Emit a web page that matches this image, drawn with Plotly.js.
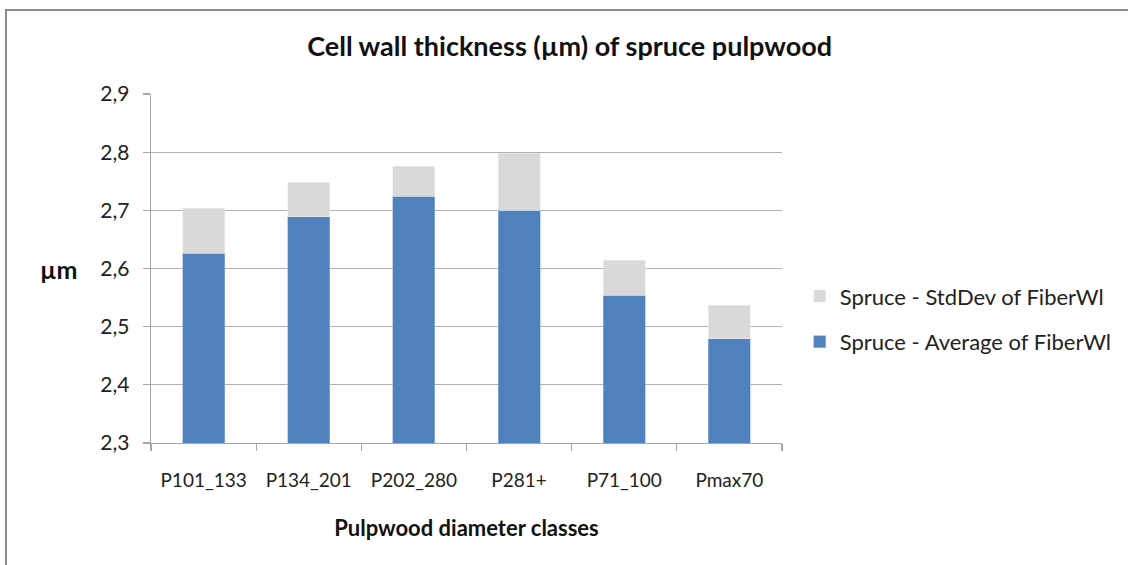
<!DOCTYPE html>
<html>
<head>
<meta charset="utf-8">
<script src="https://cdn.plot.ly/plotly-3.0.1.min.js"></script>
<style>
  html, body { margin: 0; padding: 0; background: #ffffff; }
  #chart { width: 1128px; height: 565px; position: absolute; left: 0; top: 0; }
  #frame { position: absolute; left: 5px; top: 9px; width: 1130px; height: 570px;
           border-left: 2px solid #8c8c8c; border-top: 2px solid #8c8c8c; pointer-events: none; }
</style>
</head>
<body>
<div id="chart"></div>
<div id="frame"></div>
<script>
const categories = ["P101_133", "P134_201", "P202_280", "P281+", "P71_100", "Pmax70"];
const averageFiberWl = [2.626, 2.689, 2.724, 2.700, 2.554, 2.479];
const stdDevFiberWl = [0.078, 0.059, 0.052, 0.098, 0.060, 0.058];
const seriesNames = ["Spruce - Average of FiberWl", "Spruce - StdDev of FiberWl"];
const chartTitle = "Cell wall thickness (µm) of spruce pulpwood";
const xTitle = "Pulpwood diameter classes";
const yTitle = "µm";

const FONT = "Lato, 'Open Sans', sans-serif";

const traces = [
  {
    type: "bar", name: seriesNames[0], x: categories, y: averageFiberWl,
    legendgroup: "avg", legendrank: 2,
    marker: { color: "#4F81BD", line: { color: "#9DBBE0", width: 0.6 } },
    hoverinfo: "x+y"
  },
  {
    type: "bar", name: seriesNames[1], x: categories, y: stdDevFiberWl,
    legendgroup: "std", legendrank: 1,
    marker: { color: "#D9D9D9", line: { color: "#EEEEEE", width: 0.6 } },
    hoverinfo: "x+y"
  }
];

const layout = {
  width: 1128, height: 565,
  paper_bgcolor: "rgba(0,0,0,0)", plot_bgcolor: "#ffffff",
  separators: ",.",
  barmode: "stack", bargap: 0.6,
  margin: { l: 151, r: 346, t: 94, b: 122 },
  font: { family: FONT, size: 19, color: "#222222" },
  title: {
    text: "<b>" + chartTitle + "</b>",
    font: { family: FONT, size: 27, color: "#111111" },
    x: 0.505, xanchor: "center", y: 0.917, yanchor: "middle"
  },
  xaxis: {
    type: "category",
    showline: true, linecolor: "#a6a6a6", linewidth: 1.3,
    ticks: "outside", tickson: "boundaries", ticklen: 7, tickcolor: "#a6a6a6", tickwidth: 1.3,
    tickfont: { family: FONT, size: 19, color: "#222222" },
    ticklabelstandoff: 20,
    showgrid: false, zeroline: false,
    title: { text: "<b>" + xTitle + "</b>", font: { family: FONT, size: 22, color: "#111111" }, standoff: 30 }
  },
  yaxis: {
    range: [2.3, 2.9], dtick: 0.1, tick0: 2.3, tickformat: ".1f",
    showline: true, linecolor: "#a6a6a6", linewidth: 1.3,
    ticks: "outside", ticklen: 7, tickcolor: "#a6a6a6", tickwidth: 1.3,
    tickfont: { family: FONT, size: 21, color: "#222222" },
    showgrid: true, gridcolor: "#b0b0b0", gridwidth: 1.3, zeroline: false,
    ticklabelstandoff: 9
  },
  legend: {
    xref: "container", yref: "container",
    x: 0.709, xanchor: "left", y: 0.435, yanchor: "middle",
    traceorder: "grouped", tracegroupgap: 14,
    font: { family: FONT, size: 22, color: "#222222" },
    itemwidth: 30, bgcolor: "rgba(0,0,0,0)"
  },
  annotations: [
    {
      text: "<b>" + yTitle + "</b>", xref: "paper", yref: "paper",
      x: -0.147, y: 0.5, xanchor: "center", yanchor: "middle",
      showarrow: false, font: { family: FONT, size: 25, color: "#111111" }
    }
  ],
  showlegend: true
};

Plotly.newPlot("chart", traces, layout, { displayModeBar: false, staticPlot: true });
</script>
</body>
</html>
